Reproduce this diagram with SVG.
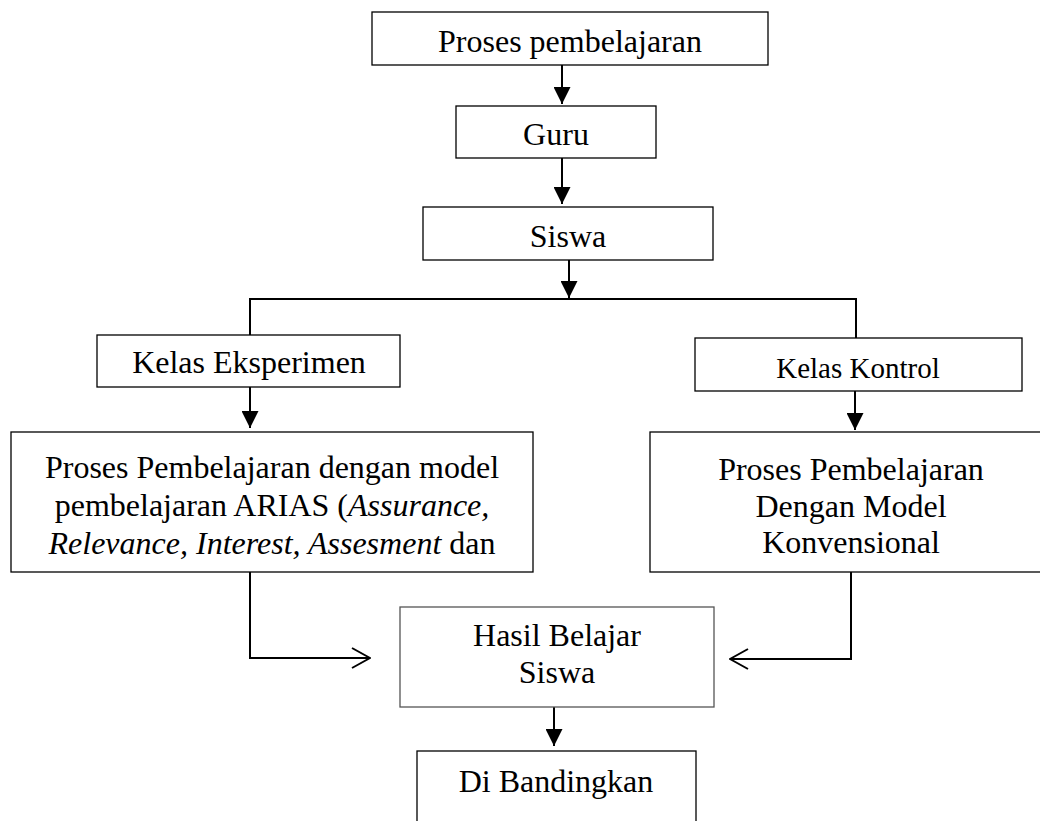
<svg xmlns="http://www.w3.org/2000/svg" width="1040" height="821" viewBox="0 0 1040 821">
<defs>
<style>
.box{fill:#fff;stroke:#000;stroke-width:1.3}
.boxg{fill:#fff;stroke:#555;stroke-width:1.3}
.t{font-family:"Liberation Serif","Times New Roman",serif;font-size:32px;fill:#000;text-anchor:middle}
.c{fill:none;stroke:#000;stroke-width:2}
</style>
<marker id="fa" viewBox="0 0 10 10" refX="10" refY="5" markerWidth="17" markerHeight="17" markerUnits="userSpaceOnUse" orient="auto">
<path d="M0,0 L10,5 L0,10 Z" fill="#000"/>
</marker>
<marker id="oa" viewBox="0 0 20 24" refX="19" refY="12" markerWidth="20" markerHeight="24" markerUnits="userSpaceOnUse" orient="auto">
<path d="M1,2 L19,12 L1,22" fill="none" stroke="#000" stroke-width="2"/>
</marker>
</defs>
<rect width="1040" height="821" fill="#fff"/>
<g id="connectors">
<line class="c" x1="562" y1="65" x2="562" y2="104" marker-end="url(#fa)"/>
<line class="c" x1="562" y1="158" x2="562" y2="204" marker-end="url(#fa)"/>
<line class="c" x1="569" y1="260" x2="569" y2="298" marker-end="url(#fa)"/>
<polyline class="c" points="250,335 250,299 856,299 856,338"/>
<line class="c" x1="250" y1="387" x2="250" y2="428" marker-end="url(#fa)"/>
<line class="c" x1="855" y1="391" x2="855" y2="430" marker-end="url(#fa)"/>
<polyline class="c" points="250,572 250,658 370,658" marker-end="url(#oa)"/>
<polyline class="c" points="851,572 851,659 730,659" marker-end="url(#oa)"/>
<line class="c" x1="554" y1="707" x2="554" y2="746" marker-end="url(#fa)"/>
</g>
<g id="n1"><rect class="box" x="372" y="12" width="396" height="53"/><text class="t" x="570" y="52">Proses pembelajaran</text></g>
<g id="n2"><rect class="box" x="456" y="106" width="200" height="52"/><text class="t" x="556" y="145">Guru</text></g>
<g id="n3"><rect class="box" x="423" y="207" width="290" height="53"/><text class="t" x="568" y="247">Siswa</text></g>
<g id="n4"><rect class="box" x="97" y="335" width="303" height="52"/><text class="t" x="249" y="373">Kelas Eksperimen</text></g>
<g id="n5"><rect class="box" x="695" y="338" width="327" height="53"/><text class="t" x="858" y="378" style="font-size:29px">Kelas Kontrol</text></g>
<g id="n6"><rect class="box" x="11" y="432" width="522" height="140"/>
<text class="t" x="272" y="478">Proses Pembelajaran dengan model</text>
<text class="t" x="272" y="516">pembelajaran ARIAS (<tspan font-style="italic">Assurance,</tspan></text>
<text class="t" x="272" y="554"><tspan font-style="italic">Relevance, Interest, Assesment</tspan> dan</text></g>
<g id="n7"><rect class="box" x="650" y="432" width="400" height="140"/>
<text class="t" x="851" y="480">Proses Pembelajaran</text>
<text class="t" x="851" y="517">Dengan Model</text>
<text class="t" x="851" y="553">Konvensional</text></g>
<g id="n8"><rect class="boxg" x="400" y="607" width="314" height="100"/>
<text class="t" x="557" y="646">Hasil Belajar</text>
<text class="t" x="557" y="683">Siswa</text></g>
<g id="n9"><rect class="box" x="417" y="751" width="279" height="80"/><text class="t" x="556" y="792">Di Bandingkan</text></g>
</svg>
